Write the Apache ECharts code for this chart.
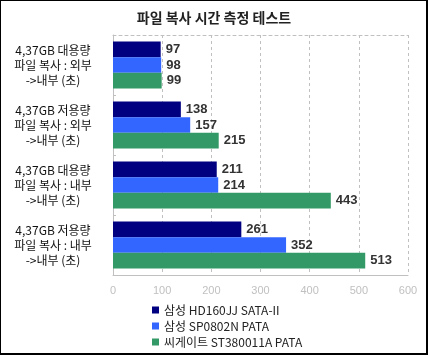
<!DOCTYPE html>
<html><head><meta charset="utf-8">
<script src="https://cdn.jsdelivr.net/npm/echarts@6/dist/echarts.min.js"></script>
<style>
html,body{margin:0;padding:0;background:#fff;}
#wrap{position:relative;width:428px;height:355px;}
#chart{width:428px;height:355px;}
#frame{position:absolute;left:0;top:0;width:428px;height:355px;box-sizing:border-box;border-top:1px solid #000;border-left:1px solid #000;border-right:2px solid #000;border-bottom:2px solid #000;pointer-events:none;}
</style></head>
<body>
<div id="wrap"><div id="chart"></div><div id="frame"></div></div>
<script>
const title = '파일 복사 시간 측정 테스트';
const categories = [
  '4,37GB 대용량\n파일 복사 : 외부\n->내부 (초)',
  '4,37GB 저용량\n파일 복사 : 외부\n->내부 (초)',
  '4,37GB 대용량\n파일 복사 : 내부\n->내부 (초)',
  '4,37GB 저용량\n파일 복사 : 내부\n->내부 (초)'
];
const seriesNames = ['삼성 HD160JJ SATA-II', '삼성 SP0802N PATA', '씨게이트 ST380011A PATA'];
const samsungHD160 = [97, 138, 211, 261];
const samsungSP0802 = [98, 157, 214, 352];
const seagateST380 = [99, 215, 443, 513];
const xTicks = [0, 100, 200, 300, 400, 500, 600];
const colors = ['#000080', '#3366FF', '#339966'];

const chart = echarts.init(document.getElementById('chart'), null, {renderer: 'canvas'});
const dataSets = [samsungHD160, samsungSP0802, seagateST380];
const krFont = '"Noto Sans CJK KR", sans-serif';
chart.setOption({
  backgroundColor: '#fff',
  animation: false,
  title: {
    text: title, left: 'center', top: 6,
    textStyle: {fontFamily: krFont, fontSize: 14, fontWeight: 'bold', color: '#222'}
  },
  grid: {left: 113, right: 20, top: 35, bottom: 80, containLabel: false},
  legend: {
    orient: 'vertical', left: 152, top: 303, height: 60, padding: 0,
    icon: 'rect', itemWidth: 7, itemHeight: 7, itemGap: 2,
    textStyle: {fontFamily: krFont, fontSize: 12, color: '#222', lineHeight: 14},
    data: seriesNames
  },
  xAxis: [{
    type: 'value', min: xTicks[0], max: xTicks[xTicks.length - 1], interval: 100,
    axisLine: {show: true, lineStyle: {color: '#c0c0c0', width: 1}},
    axisTick: {show: false},
    axisLabel: {color: '#c0c0c0', fontSize: 11, fontFamily: 'Liberation Sans, Arial, sans-serif', margin: 10},
    splitLine: {show: true, lineStyle: {color: '#c0c0c0', type: [3, 3], width: 1}}
  }, {
    type: 'value', position: 'top', min: xTicks[0], max: xTicks[xTicks.length - 1], interval: 100,
    axisLine: {show: true, lineStyle: {color: '#c0c0c0', type: [3, 3], width: 1}},
    axisTick: {show: false}, axisLabel: {show: false}, splitLine: {show: false}
  }],
  yAxis: {
    type: 'category', data: categories, inverse: true,
    axisLine: {show: true, lineStyle: {color: '#c0c0c0', width: 1}},
    axisTick: {show: true, inside: true, length: 3, lineStyle: {color: '#c0c0c0'}},
    axisLabel: {align: 'center', margin: 60, fontFamily: krFont, fontSize: 12, color: '#111', lineHeight: 15, padding: [5, 0, 0, 0]},
    splitLine: {show: false}
  },
  series: dataSets.map((d, i) => ({
    name: seriesNames[i], type: 'bar', data: d, xAxisIndex: 0,
    barGap: '0%', barCategoryGap: '22%',
    itemStyle: {color: colors[i]},
    label: {show: true, position: 'right', distance: 5, color: '#333', fontSize: 13, fontWeight: 'bold', fontFamily: 'Liberation Sans, Arial, sans-serif'}
  }))
});
</script>
</body></html>
